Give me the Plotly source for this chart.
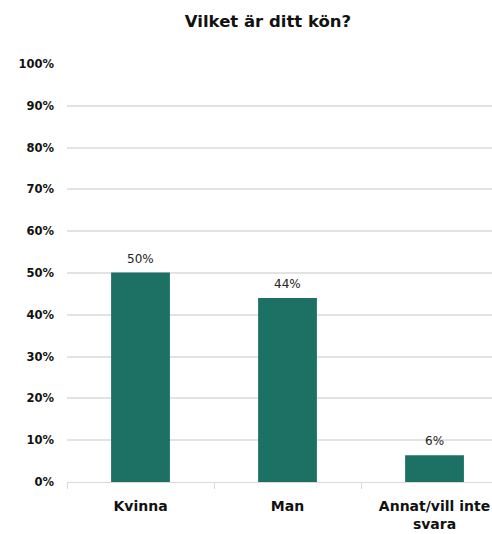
import plotly.graph_objects as go

categories = ["Kvinna", "Man", "Annat/vill inte svara"]
tick_labels = ["Kvinna", "Man", "Annat/vill inte<br>svara"]
values = [50.1, 44.0, 6.4]
y_ticks = list(range(0, 101, 10))
y_tick_labels = [f"{v}%" for v in y_ticks]

FONT = "DejaVu Sans"
W, H = 492, 534
fig = go.Figure()
fig.add_trace(go.Bar(
    x=categories, y=values,
    marker=dict(color="#1d7064", line=dict(width=0)),
    width=0.4,
    cliponaxis=False,
))
for c, v in zip(categories, values):
    fig.add_annotation(x=c, y=v, text=f"{round(v)}%", showarrow=False,
                       yanchor="bottom", yshift=5,
                       font=dict(family=FONT, size=12, color="#222222"))
fig.update_layout(
    width=W, height=H,
    margin=dict(l=67, r=0, t=64, b=52),
    paper_bgcolor="white", plot_bgcolor="white",
    showlegend=False,
    title=dict(text="<b>Vilket är ditt kön?</b>", x=268/W, xanchor="center",
               y=1-21/H, yanchor="middle",
               font=dict(family=FONT, size=16.5, color="#111111")),
)
fig.update_xaxes(
    range=[-0.5, 2.391], automargin=False,
    tickmode="array", tickvals=categories, ticktext=[f"<b>{t}</b>" for t in tick_labels],
    tickfont=dict(family=FONT, size=14, color="#111111"),
    showgrid=False, showline=True, linecolor="#d9d9d9", linewidth=1,
    ticks="outside", tickson="boundaries", ticklen=6, tickcolor="#d9d9d9",
    ticklabelstandoff=11,
)
fig.update_yaxes(
    range=[0, 100], automargin=False,
    tickmode="array", tickvals=y_ticks, ticktext=[f"<b>{t}</b>" for t in y_tick_labels],
    tickfont=dict(family=FONT, size=11.5, color="#111111"),
    showgrid=True, gridcolor="#e3e3e3", gridwidth=1.5,
    zeroline=False, ticks="", ticklabelstandoff=12,
)
fig.write_html("out.html", config={"displayModeBar": False},
               post_script="document.body.style.margin='0';document.body.style.overflow='hidden';")
